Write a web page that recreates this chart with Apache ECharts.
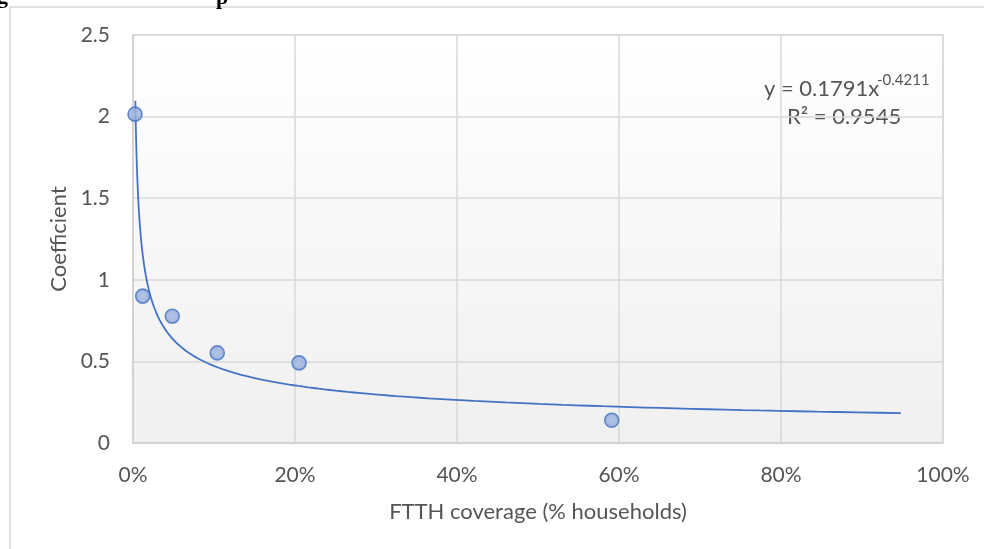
<!DOCTYPE html>
<html>
<head>
<meta charset="utf-8" />
<style>
  html, body { margin: 0; padding: 0; background: #fff; }
  #chart { width: 984px; height: 549px; }
</style>
<script src="https://cdn.jsdelivr.net/npm/echarts@6/dist/echarts.min.js"></script>
</head>
<body>
<div id="chart"></div>
<script>
// FTTH coverage (share of households) vs coefficient
const coverage = [0.0025, 0.012, 0.0485, 0.104, 0.205, 0.591];
const coefficient = [2.015, 0.9, 0.777, 0.552, 0.491, 0.139];

// power trendline shown on the chart: y = a * x^b
const trendA = 0.1791;
const trendB = -0.4211;
const trendFrom = 0.0029;
const trendTo = 0.948;

const xTicks = ["0%", "20%", "40%", "60%", "80%", "100%"];
const yTicks = ["0", "0.5", "1", "1.5", "2", "2.5"];

const trendPoints = [];
for (let i = 0; i <= 200; i++) {
  const x = trendFrom * Math.pow(trendTo / trendFrom, i / 200);
  trendPoints.push([x, trendA * Math.pow(x, trendB)]);
}

const textColor = "#555555";
const font = "Lato";

const chart = echarts.init(document.getElementById("chart"));
chart.setOption({
  animation: false,
  textStyle: { fontFamily: font },
  grid: {
    left: 133,
    right: 41,
    top: 35,
    bottom: 106,
    show: true,
    borderColor: "#d9d9d9",
    borderWidth: 1.5,
    backgroundColor: {
      type: "linear",
      x: 0, y: 0, x2: 0, y2: 1,
      colorStops: [
        { offset: 0, color: "#ffffff" },
        { offset: 1, color: "#f0f0f0" },
      ],
    },
  },
  xAxis: {
    type: "value",
    min: 0,
    max: 1,
    interval: 0.2,
    name: "FTTH coverage (% households)",
    nameLocation: "middle",
    nameGap: 58,
    nameTextStyle: { color: textColor, fontSize: 22, fontFamily: font },
    axisLine: { show: true, lineStyle: { color: "#d0d0d0", width: 1.5 } },
    axisTick: { show: false },
    axisLabel: {
      color: textColor,
      fontSize: 21,
      margin: 22,
      formatter: (v) => xTicks[Math.round(v / 0.2)],
    },
    splitLine: { show: true, lineStyle: { color: "#d9d9d9", width: 1.5 } },
  },
  yAxis: {
    type: "value",
    min: 0,
    max: 2.5,
    interval: 0.5,
    name: "Coefficient",
    nameLocation: "middle",
    nameGap: 62,
    nameTextStyle: { color: textColor, fontSize: 22, fontFamily: font },
    axisLine: { show: true, lineStyle: { color: "#d0d0d0", width: 1.5 } },
    axisTick: { show: false },
    axisLabel: {
      color: textColor,
      fontSize: 21,
      margin: 23,
      formatter: (v) => yTicks[Math.round(v / 0.5)],
    },
    splitLine: { show: true, lineStyle: { color: "#d9d9d9", width: 1.5 } },
  },
  series: [
    {
      name: "Trend",
      type: "line",
      data: trendPoints,
      showSymbol: false,
      smooth: false,
      lineStyle: { color: "#4472c4", width: 1.8 },
      z: 2,
    },
    {
      name: "Coefficient",
      type: "scatter",
      data: coverage.map((x, i) => [x, coefficient[i]]),
      symbolSize: 14,
      itemStyle: {
        color: {
          type: "radial",
          x: 0.5, y: 0.5, r: 0.6,
          colorStops: [
            { offset: 0, color: "#a3b9e2" },
            { offset: 1, color: "#859fd6" },
          ],
        },
        borderColor: "#4472c4",
        borderWidth: 1.6,
      },
      z: 3,
    },
  ],
  graphic: [
    {
      type: "rect",
      shape: { x: 10, y: 7, width: 1000, height: 600 },
      style: { fill: "none", stroke: "#d9d9d9", lineWidth: 1.5 },
      silent: true,
    },
    {
      type: "text",
      left: -3,
      top: -14,
      style: { text: "g", fontFamily: "Liberation Serif", fontWeight: "bold", fontSize: 22, fill: "#000" },
    },
    {
      type: "text",
      left: 216,
      top: -13,
      style: { text: "p", fontFamily: "Liberation Serif", fontWeight: "bold", fontSize: 22, fill: "#000" },
    },
    {
      type: "text",
      left: 764,
      top: 78,
      style: { text: "y = 0.1791x", fontFamily: font, fontSize: 22, fill: textColor },
    },
    {
      type: "text",
      left: 877,
      top: 73,
      style: { text: "-0.4211", fontFamily: font, fontSize: 15, fill: textColor },
    },
    {
      type: "text",
      left: 787,
      top: 106,
      style: { text: "R² = 0.9545", fontFamily: font, fontSize: 22, fill: textColor },
    },
  ],
});
</script>
</body>
</html>
